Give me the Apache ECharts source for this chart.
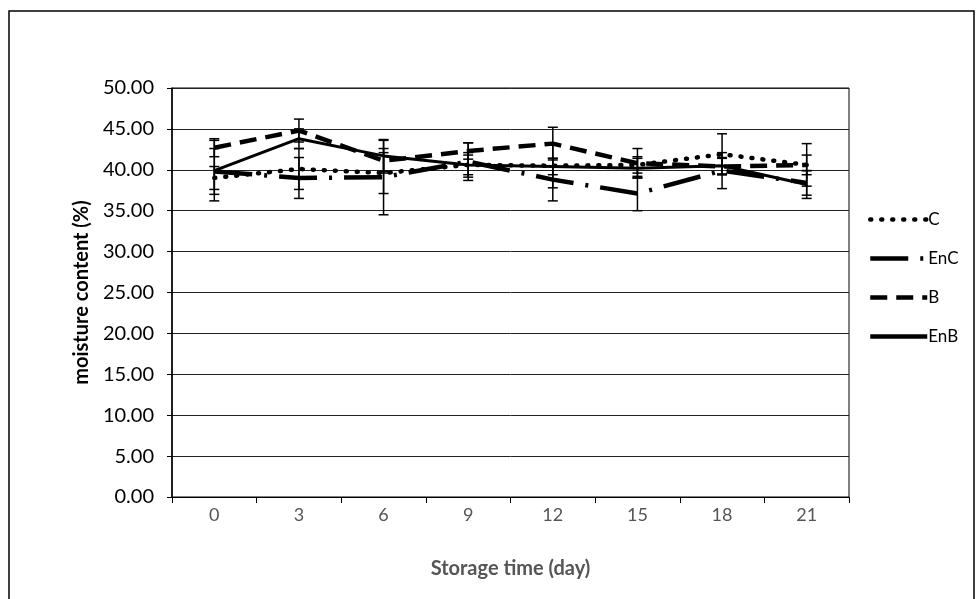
<!DOCTYPE html>
<html>
<head>
<meta charset="utf-8">
<script src="https://cdn.jsdelivr.net/npm/echarts@6/dist/echarts.min.js"></script>
<style>
  html, body { margin: 0; padding: 0; background: #fff; }
  #chart { width: 976px; height: 599px; }
</style>
</head>
<body>
<div id="chart"></div>
<script>
// Storage days (category axis)
const days = ['0', '3', '6', '9', '12', '15', '18', '21'];

// Moisture content (%) per treatment
const valC   = [39.0, 40.1, 39.6, 40.6, 40.5, 40.6, 41.9, 40.6];
const valEnC = [39.8, 39.0, 39.1, 41.0, 38.8, 37.1, 39.9, 38.4];
const valB   = [42.7, 44.8, 41.1, 42.3, 43.2, 40.8, 40.4, 40.6];
const valEnB = [39.9, 43.8, 41.7, 40.6, 40.4, 40.2, 40.5, 38.2];

// Standard deviations (error bars)
const errC   = [1.4, 2.5, 2.5, 1.5, 2.7, 1.0, 2.5, 1.2];
const errEnC = [2.8, 2.5, 4.6, 2.3, 2.6, 2.1, 2.2, 1.5];
const errB   = [1.1, 1.4, 1.5, 1.0, 2.0, 1.8, 1.0, 2.6];
const errEnB = [3.7, 1.2, 1.9, 1.2, 1.0, 1.2, 1.0, 1.7];

// Value axis range
const yMin = 0, yMax = 50, yStep = 5;

const FONT = 'Lato';

function errData(vals, errs) {
  return vals.map((v, i) => [i, v - errs[i], v + errs[i]]);
}

function errSeries(vals, errs) {
  return {
    type: 'custom',
    silent: true,
    z: 1,
    data: errData(vals, errs),
    renderItem: function (params, api) {
      const x = api.value(0);
      const lo = api.coord([x, api.value(1)]);
      const hi = api.coord([x, api.value(2)]);
      const w = 5;
      const style = { stroke: '#000', lineWidth: 1.5 };
      return {
        type: 'group',
        children: [
          { type: 'line', shape: { x1: lo[0], y1: lo[1], x2: hi[0], y2: hi[1] }, style: style },
          { type: 'line', shape: { x1: lo[0] - w, y1: lo[1], x2: lo[0] + w, y2: lo[1] }, style: style },
          { type: 'line', shape: { x1: hi[0] - w, y1: hi[1], x2: hi[0] + w, y2: hi[1] }, style: style }
        ]
      };
    }
  };
}

function lineSeries(name, vals, style) {
  return {
    name: name,
    type: 'line',
    data: vals,
    symbol: 'none',
    z: 3,
    itemStyle: { color: '#000' },
    lineStyle: Object.assign({ color: '#000' }, style)
  };
}

const chart = echarts.init(document.getElementById('chart'), null, { renderer: 'canvas' });

chart.setOption({
  backgroundColor: '#fff',
  animation: false,
  textStyle: { fontFamily: FONT },
  graphic: [{
    type: 'rect',
    shape: { x: 9, y: 11, width: 965, height: 620 },
    style: { fill: 'none', stroke: '#000', lineWidth: 1.5 },
    silent: true
  }],
  grid: {
    left: 172, right: 127, top: 88, bottom: 102,
    show: true, borderColor: '#000', borderWidth: 1, backgroundColor: 'transparent'
  },
  legend: {
    orient: 'vertical',
    left: 863,
    top: 206,
    itemWidth: 57,
    itemHeight: 14,
    itemGap: 22,
    itemStyle: { opacity: 0 },
    lineStyle: { width: 4.5 },
    data: ['C', 'EnC', 'B', 'EnB'],
    textStyle: { fontFamily: FONT, fontSize: 17, color: '#000', padding: [0, 0, 0, -4] }
  },
  xAxis: {
    type: 'category',
    data: days,
    boundaryGap: true,
    name: 'Storage time (day)',
    nameLocation: 'middle',
    nameGap: 62,
    nameTextStyle: { fontFamily: FONT, fontSize: 20, fontWeight: 'bold', color: '#555' },
    axisLine: { lineStyle: { color: '#000', width: 1 } },
    axisTick: { show: true, length: 6, lineStyle: { color: '#000' } },
    axisLabel: { fontFamily: FONT, fontSize: 18, color: '#555', margin: 9 }
  },
  yAxis: {
    type: 'value',
    min: yMin, max: yMax, interval: yStep,
    name: 'moisture content (%)',
    nameLocation: 'middle',
    nameGap: 74,
    nameRotate: 90,
    nameTextStyle: { fontFamily: FONT, fontSize: 20, fontWeight: 'bold', color: '#000' },
    axisLine: { show: true, lineStyle: { color: '#000', width: 1.5 } },
    axisTick: { show: true, length: 5, lineStyle: { color: '#000' } },
    axisLabel: {
      fontFamily: FONT, fontSize: 20, color: '#000', margin: 18,
      formatter: v => v.toFixed(2)
    },
    splitLine: { show: true, lineStyle: { color: '#222', width: 1 } }
  },
  series: [
    lineSeries('C', valC, { width: 4.5, type: [1, 10], cap: 'round' }),
    lineSeries('EnC', valEnC, { width: 4.5, type: [38, 12, 3, 12] }),
    lineSeries('B', valB, { width: 4.5, type: [17, 9] }),
    lineSeries('EnB', valEnB, { width: 3, type: 'solid' }),
    errSeries(valC, errC),
    errSeries(valEnC, errEnC),
    errSeries(valB, errB),
    errSeries(valEnB, errEnB)
  ]
});
</script>
</body>
</html>
